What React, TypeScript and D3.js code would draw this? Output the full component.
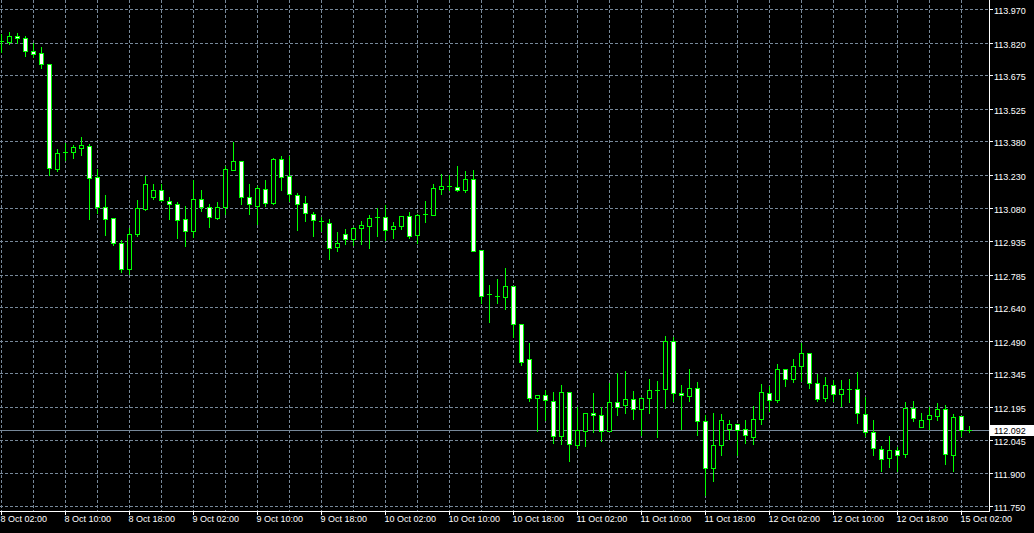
import React, { useEffect } from "react";
import * as d3 from "d3";

const opens = [113.830,113.824,113.852,113.839,113.782,113.776,113.727,113.255,113.332,113.332,113.350,113.360,113.219,113.088,113.039,112.928,112.809,112.965,113.077,113.131,113.161,113.114,113.101,113.034,112.980,113.124,113.088,113.037,113.086,113.253,113.294,113.133,113.092,113.168,113.104,113.302,113.223,113.141,113.106,113.056,113.024,113.015,112.907,112.964,112.943,112.992,113.000,113.040,113.042,112.990,113.001,113.048,112.961,113.057,113.053,113.167,113.180,113.177,113.161,113.213,112.895,112.696,112.687,112.684,112.735,112.565,112.408,112.232,112.247,112.220,112.062,112.262,112.022,112.088,112.167,112.158,112.088,112.216,112.201,112.230,112.184,112.234,112.271,112.272,112.489,112.256,112.241,112.279,112.131,111.921,112.024,112.094,112.116,112.094,112.060,112.139,112.256,112.223,112.363,112.317,112.377,112.435,112.301,112.232,112.292,112.250,112.275,112.274,112.162,112.081,112.006,111.966,112.001,111.982,112.189,112.103,112.138,112.155,112.185,111.977,112.153,112.092];
const highs = [113.857,113.869,113.863,113.849,113.817,113.800,113.727,113.347,113.371,113.362,113.398,113.368,113.254,113.141,113.039,112.937,112.992,113.116,113.223,113.188,113.188,113.131,113.110,113.092,113.205,113.161,113.098,113.107,113.268,113.377,113.294,113.188,113.179,113.205,113.305,113.313,113.313,113.149,113.134,113.066,113.042,113.034,112.973,112.987,112.997,113.024,113.052,113.083,113.097,113.021,113.048,113.062,113.057,113.112,113.188,113.232,113.228,113.268,113.246,113.250,112.895,112.736,112.763,112.813,112.735,112.565,112.477,112.247,112.270,112.262,112.293,112.262,112.192,112.167,112.257,112.192,112.302,112.346,112.353,112.266,112.237,112.320,112.311,112.512,112.505,112.293,112.365,112.306,112.156,112.168,112.162,112.135,112.116,112.135,112.200,112.296,112.289,112.387,112.363,112.410,112.478,112.435,112.341,112.326,112.314,112.314,112.320,112.350,112.240,112.135,112.019,112.064,112.016,112.216,112.220,112.168,112.192,112.213,112.203,112.163,112.153,112.107];
const lows = [113.779,113.815,113.821,113.761,113.757,113.708,113.231,113.246,113.296,113.305,113.317,113.034,113.059,112.960,112.915,112.795,112.788,112.957,113.071,113.121,113.113,113.032,112.947,112.912,112.952,113.068,112.998,113.031,113.057,113.253,113.100,113.055,113.012,113.092,113.100,113.161,113.112,112.986,113.022,112.956,112.979,112.855,112.889,112.923,112.915,112.923,112.905,112.958,112.940,112.949,112.990,112.949,112.928,113.018,113.050,113.146,113.161,113.158,113.152,112.889,112.657,112.572,112.657,112.630,112.505,112.383,112.222,112.085,112.136,112.034,112.030,111.954,112.010,112.020,112.081,112.043,112.088,112.159,112.165,112.141,112.067,112.165,112.061,112.189,112.219,112.095,112.219,112.067,111.800,111.861,111.980,112.049,111.977,112.033,112.028,112.118,112.177,112.217,112.289,112.306,112.308,112.277,112.219,112.222,112.219,112.200,112.214,112.124,112.064,111.977,111.909,111.924,111.909,111.968,112.132,112.103,112.094,112.137,111.939,111.909,112.066,112.080];
const closes = [113.830,113.852,113.839,113.781,113.770,113.725,113.260,113.326,113.332,113.353,113.362,113.216,113.086,113.032,112.925,112.809,112.967,113.080,113.191,113.161,113.119,113.101,113.030,112.980,113.124,113.088,113.043,113.088,113.258,113.294,113.131,113.101,113.173,113.104,113.302,113.220,113.144,113.100,113.061,113.030,113.024,112.905,112.928,112.943,112.994,113.004,113.039,113.040,112.985,113.003,113.048,112.956,113.052,113.057,113.170,113.182,113.180,113.164,113.213,112.892,112.690,112.696,112.687,112.735,112.563,112.393,112.232,112.247,112.225,112.062,112.262,112.027,112.091,112.167,112.158,112.088,112.216,112.195,112.231,112.184,112.234,112.270,112.271,112.489,112.254,112.247,112.279,112.131,111.921,112.024,112.135,112.118,112.089,112.068,112.139,112.261,112.223,112.363,112.317,112.377,112.435,112.299,112.228,112.292,112.250,112.274,112.275,112.167,112.081,112.010,111.961,112.001,111.979,112.189,112.143,112.135,112.159,112.185,111.984,112.148,112.092,112.092];

const priceTicks = ["113.970","113.820","113.675","113.525","113.380","113.230","113.080","112.935","112.785","112.640","112.490","112.345","112.195","112.045","111.900","111.750"];
const timeLabels = ["8 Oct 02:00","8 Oct 10:00","8 Oct 18:00","9 Oct 02:00","9 Oct 10:00","9 Oct 18:00","10 Oct 02:00","10 Oct 10:00","10 Oct 18:00","11 Oct 02:00","11 Oct 10:00","11 Oct 18:00","12 Oct 02:00","12 Oct 10:00","12 Oct 18:00","15 Oct 02:00"];
const timeLabelIndex = [0,8,16,24,32,40,48,56,64,72,80,88,96,104,112,120];
const currentPrice = 112.092;

const W = 1034, H = 533;
const AX = 989; // right axis line x
const AY = 511; // bottom axis line y
const GRID = "#778899";
const BULL = "#00ff00";
const FONT = "'Liberation Sans', Arial, sans-serif";

export default function App() {
  useEffect(() => {
    document.body.style.margin = "0";
    document.body.style.background = "#000";
  }, []);

  const n = opens.length;
  const x = d3.scaleLinear().domain([0, n - 1]).range([1.5, 1.5 + 8 * (n - 1)]);
  const y = d3.scaleLinear().domain([111.75, 113.97]).range([506.3, 9.16]);
  const py = (v: number) => Math.round(y(v));

  const vGrid = d3.range(0, n, 4).map((i) => x(i));

  return (
    <svg width={W} height={H} style={{ display: "block", background: "#000" }} fontFamily={FONT}>
      <rect x={0} y={0} width={W} height={H} fill="#000" />
      {/* grid */}
      <g stroke={GRID} strokeWidth={1} strokeDasharray="3,2" shapeRendering="crispEdges">
        {priceTicks.map((t) => (
          <line key={"h" + t} x1={0} x2={AX} y1={py(+t) + 0.5} y2={py(+t) + 0.5} />
        ))}
        {vGrid.map((gx, k) => (
          <line key={"v" + k} x1={gx} x2={gx} y1={0} y2={AY} />
        ))}
      </g>
      {/* current price line */}
      <line x1={0} x2={AX + 1} y1={py(currentPrice) + 0.5} y2={py(currentPrice) + 0.5} stroke={GRID} strokeWidth={1} shapeRendering="crispEdges" />
      {/* candles */}
      <g shapeRendering="crispEdges">
        {opens.map((o, i) => {
          const c = closes[i];
          const cx = x(i);
          const yh = py(highs[i]);
          const yl = py(lows[i]);
          const yt = py(Math.max(o, c));
          const yb = py(Math.min(o, c));
          const bull = c > o;
          return (
            <g key={i}>
              <line x1={cx} x2={cx} y1={yh} y2={yl + 1} stroke={BULL} strokeWidth={1} />
              {yb - yt < 1 ? (
                <line x1={cx - 2.5} x2={cx + 2.5} y1={yt + 0.5} y2={yt + 0.5} stroke={BULL} strokeWidth={1} />
              ) : (
                <rect x={cx - 2} y={yt + 0.5} width={4} height={yb - yt} fill={bull ? "#000" : "#fff"} stroke={BULL} strokeWidth={1} />
              )}
            </g>
          );
        })}
      </g>
      {/* axes */}
      <g stroke="#fff" strokeWidth={1} shapeRendering="crispEdges">
        <line x1={AX + 0.5} x2={AX + 0.5} y1={0} y2={AY + 1} />
        <line x1={0} x2={AX + 1} y1={AY + 0.5} y2={AY + 0.5} />
        {priceTicks.map((t) => (
          <line key={"pt" + t} x1={AX + 1} x2={AX + 4} y1={py(+t) + 0.5} y2={py(+t) + 0.5} />
        ))}
        {timeLabelIndex.map((i) => (
          <line key={"tt" + i} x1={x(i)} x2={x(i)} y1={AY} y2={AY + 4} />
        ))}
      </g>
      {/* price labels */}
      <g fill="#fff" fontSize={9}>
        {priceTicks.map((t) => (
          <text key={"pl" + t} x={994} y={py(+t) + 1.5} dominantBaseline="central">
            {t}
          </text>
        ))}
      </g>
      {/* current price box */}
      <rect x={AX + 1} y={py(currentPrice) - 5} width={W - AX - 1} height={11} fill="#fff" />
      <text x={994} y={py(currentPrice) + 1} dominantBaseline="central" fontSize={9} fill="#000">
        {currentPrice.toFixed(3)}
      </text>
      {/* time labels */}
      <g fill="#fff" fontSize={9}>
        {timeLabelIndex.map((i, k) => (
          <text key={"tl" + i} x={x(i) - 1} y={521.5}>
            {timeLabels[k]}
          </text>
        ))}
      </g>
    </svg>
  );
}
